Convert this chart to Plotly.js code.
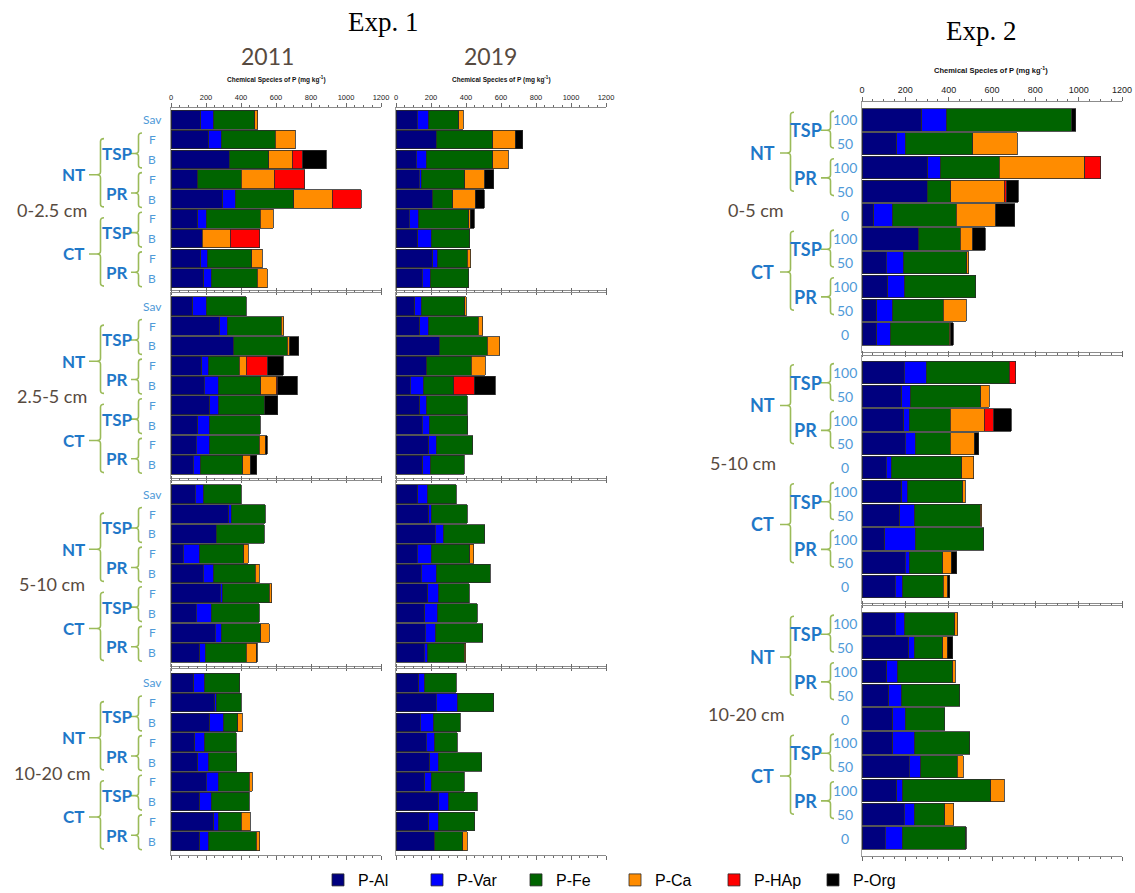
<!DOCTYPE html>
<html><head><meta charset="utf-8">
<script src="https://cdn.plot.ly/plotly-3.0.1.min.js"></script>
<style>html,body{margin:0;padding:0;background:#fff}#chart{width:1135px;height:893px}</style>
</head><body><div id="chart"></div>
<script>
const W = 1135, H = 893;

// ---------------- DATA ----------------
const species = ['P-Al', 'P-Var', 'P-Fe', 'P-Ca', 'P-HAp', 'P-Org'];
const speciesKeys = ['Al', 'Var', 'Fe', 'Ca', 'HAp', 'Org'];
const speciesColors = ['#00007f', '#0000ff', '#006400', '#ff8c00', '#ff0000', '#000000'];

const exp1Cats = ['Sav', 'NT-TSP-F', 'NT-TSP-B', 'NT-PR-F', 'NT-PR-B', 'CT-TSP-F', 'CT-TSP-B', 'CT-PR-F', 'CT-PR-B'];
const exp2Cats = ['NT-TSP-100', 'NT-TSP-50', 'NT-PR-100', 'NT-PR-50', 'NT-0', 'CT-TSP-100', 'CT-TSP-50', 'CT-PR-100', 'CT-PR-50', 'CT-0'];
const exp1Depths = ['0-2.5 cm', '2.5-5 cm', '5-10 cm', '10-20 cm'];
const exp2Depths = ['0-5 cm', '5-10 cm', '10-20 cm'];
const exp1Years = ['2011', '2019'];
const xTicks = [0, 200, 400, 600, 800, 1000, 1200];

// Exp. 1, 2011
const e1_2011_d1 = { Al: [171,215,333,152,297,154,179,171,187], Var: [73,71,0,0,69,46,0,40,42], Fe: [234,310,225,250,335,309,0,250,264], Ca: [19,115,135,187,221,74,160,59,56], HAp: [0,0,59,175,164,0,168,0,0], Org: [0,0,134,0,0,0,0,0,0] };
const e1_2011_d2 = { Al: [124,278,358,175,191,221,154,145,126], Var: [78,42,0,42,78,51,67,76,42], Fe: [227,309,305,172,245,265,288,284,242], Ca: [0,15,15,42,88,0,0,34,43], HAp: [0,0,0,121,8,0,0,0,0], Org: [0,0,52,88,112,73,0,10,38] };
const e1_2011_d3 = { Al: [139,330,259,69,183,282,145,253,164], Var: [48,15,0,95,61,15,85,33,32], Fe: [215,194,274,251,238,265,275,226,235], Ca: [0,0,0,25,23,15,0,50,55], HAp: [0,0,0,0,0,0,0,0,0], Org: [0,0,0,0,0,0,0,0,7] };
const e1_2011_d4 = { Al: [130,250,221,135,154,202,164,244,164], Var: [62,9,80,57,61,67,65,25,53], Fe: [200,143,80,181,162,179,217,133,271], Ca: [0,0,25,0,0,15,0,51,19], HAp: [0,0,0,0,0,0,0,0,0], Org: [0,0,0,0,0,0,0,0,0] };
// Exp. 1, 2019
const e1_2019_d1 = { Al: [120,229,116,133,211,76,124,210,149], Var: [67,0,57,10,0,54,78,28,47], Fe: [171,325,381,249,113,285,219,168,219], Ca: [25,128,86,115,129,10,0,21,0], HAp: [0,0,0,0,0,0,0,0,0], Org: [0,42,0,51,52,21,0,0,0] };
const e1_2019_d2 = { Al: [107,135,250,177,82,135,149,187,152], Var: [36,52,0,0,76,40,42,43,44], Fe: [249,282,270,252,172,231,220,208,195], Ca: [10,26,72,82,0,0,0,0,0], HAp: [0,0,0,0,116,0,0,0,0], Org: [0,0,0,0,122,0,0,0,0] };
const e1_2019_d3 = { Al: [124,187,225,120,143,181,164,168,162], Var: [57,13,47,82,87,63,74,59,19], Fe: [162,208,235,219,309,175,227,270,208], Ca: [0,0,0,23,0,0,0,0,9], HAp: [0,0,0,0,0,0,0,0,0], Org: [0,0,0,0,0,0,0,0,0] };
const e1_2019_d4 = { Al: [130,229,139,173,192,164,244,187,221], Var: [34,125,76,48,48,36,57,53,0], Fe: [181,204,153,128,251,189,164,210,160], Ca: [0,0,0,0,0,0,0,0,25], HAp: [0,0,0,0,0,0,0,0,0], Org: [0,0,0,0,0,0,0,0,0] };
// Exp. 2
const e2_d1 = { Al: [276,161,303,300,54,261,111,118,69,69], Var: [116,39,58,0,87,0,81,79,72,62], Fe: [576,311,272,110,294,192,292,328,235,271], Ca: [0,206,396,246,182,58,8,0,105,8], HAp: [0,0,72,12,0,0,0,0,0,0], Org: [18,0,0,54,87,57,0,0,0,11] };
const e2_d2 = { Al: [195,184,192,200,111,184,174,104,200,154], Var: [101,39,26,46,23,28,69,142,18,33], Fe: [384,325,189,161,327,253,302,315,154,189], Ca: [0,40,158,111,54,11,8,0,40,20], HAp: [30,0,42,0,0,0,0,0,0,0], Org: [0,0,81,20,0,0,0,0,26,8] };
const e2_d3 = { Al: [154,215,114,124,141,141,217,160,194,108], Var: [44,25,50,60,59,103,53,29,46,78], Fe: [229,132,254,266,182,254,169,405,142,292], Ca: [15,21,12,0,0,0,28,63,42,4], HAp: [0,0,0,0,0,0,0,0,0,0], Org: [0,26,0,0,0,0,0,0,0,0] };

// ---------------- LAYOUT GEOMETRY ----------------
const exp1Cols = [[171, 381], [396, 606]];
const exp1Rows = [[108, 290], [293, 478], [481, 666], [669, 855]];
const exp2Col = [862, 1122];
const exp2Rows = [[102, 352], [356, 603], [606, 856]];

const panels = [];
const exp1Data = [[e1_2011_d1, e1_2011_d2, e1_2011_d3, e1_2011_d4], [e1_2019_d1, e1_2019_d2, e1_2019_d3, e1_2019_d4]];
for (let c = 0; c < 2; c++) for (let r = 0; r < 4; r++) {
  panels.push({ exp: 1, col: c, row: r, data: exp1Data[c][r], cats: exp1Cats, xd: exp1Cols[c], yd: exp1Rows[r], slot: 19.8, labels: c === 0, depth: exp1Depths[r] });
}
const exp2Data = [e2_d1, e2_d2, e2_d3];
for (let r = 0; r < 3; r++) {
  panels.push({ exp: 2, col: 0, row: r, data: exp2Data[r], cats: exp2Cats, xd: exp2Col, yd: exp2Rows[r], slot: 23.8, labels: true, depth: exp2Depths[r] });
}

const traces = [];
const layout = {
  width: W, height: H, margin: { l: 0, r: 0, t: 0, b: 0, autoexpand: false },
  paper_bgcolor: '#fff', plot_bgcolor: '#fff',
  barmode: 'stack', bargap: 0.06,
  font: { family: 'Liberation Sans, Arial, sans-serif', color: '#000' },
  showlegend: true,
  legend: { orientation: 'h', x: 318 / W, xanchor: 'left', y: 1 - 880 / H, yanchor: 'middle',
    font: { family: 'Liberation Sans, Arial, sans-serif', size: 16, color: '#000' },
    entrywidth: 54, entrywidthmode: 'pixels', traceorder: 'normal', bgcolor: 'rgba(0,0,0,0)' },
  annotations: [], shapes: []
};

const LBLUE = '#4f9ad8', BLUE = '#1f78c8', BRACE = '#9bbb59', BROWN = '#574a40';
const LBL_FONT = 'Lato, Open Sans, sans-serif';

function px2x(p) { return p / W; }
function ann(text, xpx, y, yref, size, color, bold, extra) {
  layout.annotations.push(Object.assign({
    text: bold ? '<b>' + text + '</b>' : text, x: px2x(xpx), y: y, xref: 'paper', yref: yref,
    showarrow: false, xanchor: 'center', yanchor: 'middle',
    font: { family: LBL_FONT, size: size, color: color }
  }, extra || {}));
}
function brace(yref, xPoint, w, yTop, yBot, yMid, stubFrom, slotPx) {
  const c = 3 / slotPx;
  const X = v => (v / W).toFixed(5);
  const x0 = xPoint, x1 = xPoint + w / 2, x2 = xPoint + w;
  const path = `M${X(x2)},${yTop} Q${X(x1)},${yTop} ${X(x1)},${yTop + c} L${X(x1)},${yMid - c} Q${X(x1)},${yMid} ${X(x0)},${yMid} ` +
    `Q${X(x1)},${yMid} ${X(x1)},${yMid + c} L${X(x1)},${yBot - c} Q${X(x1)},${yBot} ${X(x2)},${yBot} M${X(stubFrom)},${yMid} L${X(x0)},${yMid}`;
  layout.shapes.push({ type: 'path', xref: 'paper', yref: yref, path: path, line: { color: BRACE, width: 1.6 } });
}

panels.forEach((p, i) => {
  const k = i + 1;
  const xa = 'x' + k, ya = 'y' + k;
  const n = p.cats.length;
  const hpx = p.yd[1] - p.yd[0];
  const pad = (hpx / p.slot - n) / 2 + 0.5;
  const yIdx = p.cats.map((c, j) => j);
  speciesKeys.forEach((key, s) => {
    traces.push({
      type: 'bar', orientation: 'h', name: species[s],
      x: p.data[key].map(v => v > 0 ? v : null), y: yIdx,
      xaxis: xa, yaxis: ya,
      marker: { color: speciesColors[s], line: { color: '#2a2a2a', width: 0.8 } },
      showlegend: i === 0, legendgroup: species[s], hoverinfo: 'skip'
    });
  });
  const isTop = p.row === 0;
  layout['xaxis' + (k === 1 ? '' : k)] = {
    domain: [p.xd[0] / W, p.xd[1] / W], range: [0, 1200], side: 'top', anchor: ya,
    showline: true, linecolor: '#8c8c8c', linewidth: 1, mirror: 'ticks',
    ticks: 'outside', ticklen: 4, tickcolor: '#6a6a6a', tickwidth: 1,
    tickmode: 'array', tickvals: xTicks, ticktext: xTicks.map(String),
    showticklabels: isTop,
    tickfont: { family: 'Liberation Sans, Arial, sans-serif', size: p.exp === 1 ? 7.5 : 9, color: '#222' },
    minor: { ticks: 'outside', ticklen: 2, dtick: 50, tick0: 0, tickcolor: '#6a6a6a', showgrid: false },
    showgrid: false, zeroline: false, fixedrange: true
  };
  layout['yaxis' + (k === 1 ? '' : k)] = {
    domain: [1 - p.yd[1] / H, 1 - p.yd[0] / H], range: [n - 1 + pad, -pad], anchor: xa,
    showline: true, linecolor: '#a0a0a0', linewidth: 1, ticks: '', showticklabels: false,
    showgrid: false, zeroline: false, fixedrange: true
  };

  if (isTop) {
    const cx = (p.xd[0] + p.xd[1]) / 2 + (p.exp === 2 ? -1 : 0);
    layout.annotations.push({
      text: '<b>Chemical Species of P (mg kg<sup>-1</sup>)</b>', x: px2x(cx), y: 1 - (p.exp === 1 ? 80 : 70) / H,
      xref: 'paper', yref: 'paper', showarrow: false, xanchor: 'center', yanchor: 'middle',
      font: { family: 'Liberation Sans, Arial, sans-serif', size: p.exp === 1 ? 6.5 : 7.5, color: '#111' }
    });
  }

  if (!p.labels) return;
  if (p.exp === 1) {
    p.cats.forEach((c, j) => {
      const parts = c.split('-');
      ann(parts[parts.length - 1], 152, j, ya, 12, LBLUE, false);
    });
    [['NT', 1], ['CT', 5]].forEach(([sys, f]) => {
      [['TSP', f], ['PR', f + 2]].forEach(([src, g]) => {
        const top = g - 0.33, bot = g + 1 + 0.43, mid = (top + bot) / 2;
        ann(src, 117, mid + 0.15, ya, 17, BLUE, true);
        brace(ya, 135, 7, top, bot, mid + 0.15, 131, p.slot);
      });
      const top = f - 0.05, bot = f + 3 + 0.4, mid = (top + bot) / 2;
      ann(sys, 73, mid + 0.1, ya, 17, BLUE, true);
      brace(ya, 97, 7, top, bot, mid + 0.1, 89, p.slot);
    });
    ann(p.depth, 52, 4.55, ya, 18, BROWN, false);
  } else {
    p.cats.forEach((c, j) => {
      const parts = c.split('-');
      ann(parts[parts.length - 1], 845, j, ya, 14, LBLUE, false);
    });
    [['NT', 0], ['CT', 5]].forEach(([sys, f]) => {
      [['TSP', f], ['PR', f + 2]].forEach(([src, g]) => {
        const top = g - 0.37, bot = g + 1 + 0.18, mid = (top + bot) / 2;
        ann(src, 806, mid + 0.03, ya, 18, BLUE, true);
        brace(ya, 827, 7, top, bot, mid + 0.03, 821, p.slot);
      });
      const top = f - 0.32, bot = f + 3, mid = (top + bot) / 2;
      ann(sys, 762, mid + 0.05, ya, 18, BLUE, true);
      brace(ya, 787, 7, top, bot, mid + 0.05, 780, p.slot);
    });
    ann(p.depth, p.row === 0 ? 756 : (p.row === 1 ? 743 : 746), 3.8, ya, 18, BROWN, false);
  }
});

// Titles
function paperText(text, xpx, ypx, size, family, color) {
  layout.annotations.push({ text: text, x: px2x(xpx), y: 1 - ypx / H, xref: 'paper', yref: 'paper',
    showarrow: false, xanchor: 'center', yanchor: 'middle', font: { family: family, size: size, color: color } });
}
paperText('Exp. 1', 383, 22, 27, 'Liberation Serif, Times New Roman, serif', '#000');
paperText('Exp. 2', 981, 31, 27, 'Liberation Serif, Times New Roman, serif', '#000');
paperText(exp1Years[0], 267, 56, 23, LBL_FONT, BROWN);
paperText(exp1Years[1], 490, 56, 23, LBL_FONT, BROWN);

Plotly.newPlot('chart', traces, layout, { staticPlot: true, displayModeBar: false });
</script></body></html>
